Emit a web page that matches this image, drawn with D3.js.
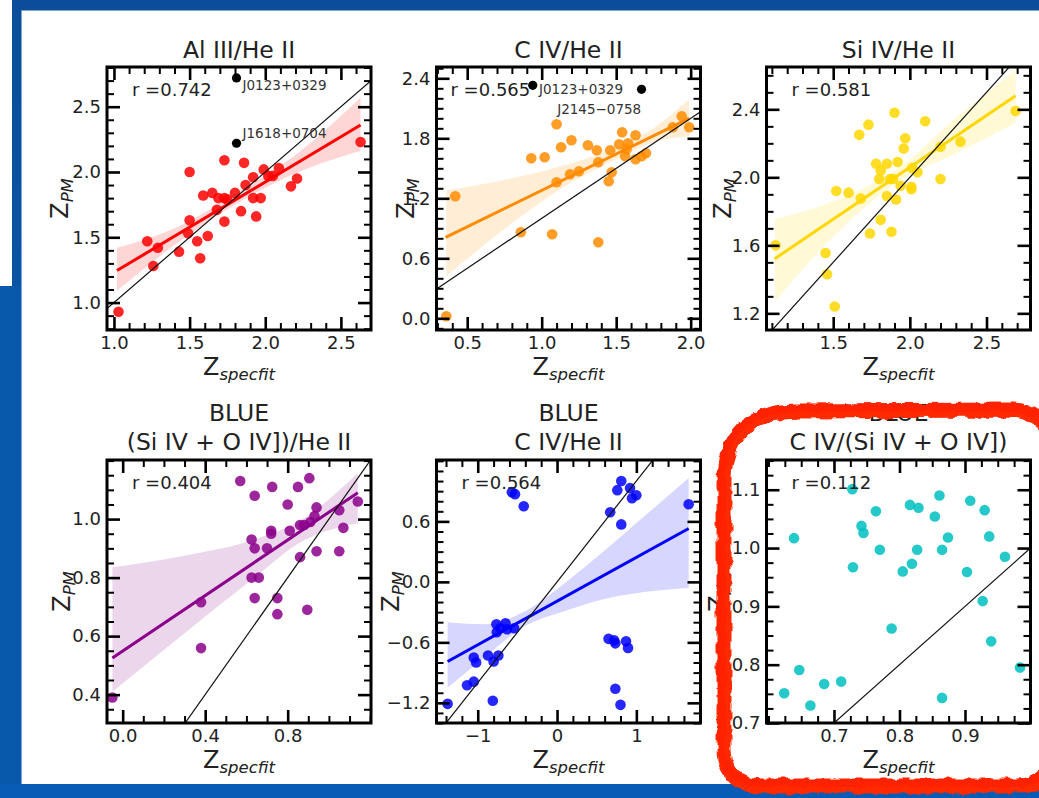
<!DOCTYPE html>
<html>
<head>
<meta charset="utf-8">
<script src="https://cdn.jsdelivr.net/npm/d3@7"></script>
<style>
  html, body { margin: 0; padding: 0; background: #fff; }
  svg { display: block; font-family: "DejaVu Sans", sans-serif; }
</style>
</head>
<body>
<svg id="fig" width="1039" height="798"></svg>
<script>
// ---------- Al III / He II ----------
const alX = [1.03,1.22,1.29,1.26,1.43,1.50,1.50,1.49,1.55,1.57,1.59,1.62,1.65,1.68,1.69,1.73,1.73,1.75,1.73,1.80,1.84,1.86,1.87,1.92,1.92,1.94,1.97,1.99,2.02,2.05,2.09,2.17,2.21,2.63];
const alY = [0.93,1.47,1.42,1.28,1.39,2.00,1.63,1.53,1.47,1.34,1.82,1.51,1.84,1.71,1.80,2.09,1.80,1.79,1.62,1.84,1.70,2.07,1.90,1.96,1.80,1.66,1.80,2.02,1.97,1.97,2.03,1.89,1.95,2.23];
const alFitX = [1.02, 2.63];
const alFitY = [1.245, 2.36];
const alBandX  = [1.02, 1.40, 1.80, 2.20, 2.63];
const alBandLo = [1.09, 1.44, 1.75, 1.99, 2.16];
const alBandHi = [1.42, 1.57, 1.83, 2.13, 2.57];
const alOutX = [1.81, 1.81];
const alOutY = [2.72, 2.22];
const alOutName = ["J0123+0329", "J1618+0704"];
const alOutTextX = [1.85, 1.85];
const alOutTextY = [2.63, 2.26];

// ---------- C IV / He II ----------
const civX = [0.36,0.42,0.86,0.93,1.02,1.07,1.10,1.10,1.13,1.19,1.20,1.25,1.31,1.37,1.38,1.38,1.45,1.46,1.47,1.52,1.54,1.56,1.57,1.58,1.63,1.63,1.67,1.70,1.88,1.94,1.99];
const civY = [0.02,1.22,0.86,1.60,1.61,0.84,1.94,1.36,1.71,1.44,1.78,1.47,1.73,1.68,0.76,1.56,1.37,1.68,1.46,1.74,1.86,1.62,1.69,1.75,1.83,1.59,1.62,1.65,1.91,2.02,1.91];
const civFitX = [0.355, 1.99];
const civFitY = [0.81, 2.00];
const civBandX  = [0.36, 0.80, 1.20, 1.50, 1.75, 1.99];
const civBandLo = [0.42, 0.95, 1.36, 1.59, 1.76, 1.82];
const civBandHi = [1.28, 1.40, 1.55, 1.71, 1.90, 2.19];
const civOutX = [0.94, 1.67];
const civOutY = [2.33, 2.29];
const civOutName = ["J0123+0329", "J2145\u22120758"];
const civOutTextX = [0.982, 1.104];
const civOutTextY = [2.243, 2.043];

// ---------- Si IV / He II ----------
const siX = [1.124,1.45,1.46,1.51,1.52,1.60,1.68,1.67,1.73,1.74,1.78,1.81,1.81,1.80,1.85,1.85,1.87,1.88,1.90,1.89,1.91,1.92,1.94,1.96,1.97,2.01,2.01,2.015,2.05,2.10,2.20,2.20,2.33,2.69];
const siY = [1.60,1.555,1.43,1.24,1.92,1.91,1.875,2.25,2.31,1.67,2.08,1.75,2.04,1.99,2.08,1.89,1.99,1.68,2.38,1.99,1.87,2.09,1.95,2.17,2.23,1.945,1.93,2.055,2.03,2.33,1.99,2.18,2.21,2.39];
const siFitX = [1.117, 2.69];
const siFitY = [1.52, 2.48];
const siBandX  = [1.12, 1.50, 1.95, 2.30, 2.69];
const siBandLo = [1.27, 1.65, 1.99, 2.14, 2.32];
const siBandHi = [1.755, 1.86, 2.07, 2.35, 2.63];

// ---------- BLUE (Si IV + O IV]) / He II ----------
const sioX = [-0.05,0.38,0.38,0.57,0.64,0.625,0.64,0.625,0.66,0.64,0.70,0.72,0.72,0.725,0.75,0.75,0.80,0.81,0.85,0.86,0.86,0.88,0.895,0.905,0.91,0.93,0.94,0.94,1.05,1.05,1.07,1.14];
const sioY = [0.39,0.716,0.559,1.13,1.08,0.93,0.90,0.80,0.80,0.73,0.90,0.95,0.96,1.11,0.73,0.675,1.05,0.96,1.11,0.87,0.98,0.98,0.69,1.14,0.99,1.01,0.89,1.04,1.03,0.89,0.97,1.06];
const sioFitX = [-0.05, 1.14];
const sioFitY = [0.525, 1.09];
const sioBandX  = [-0.05, 0.30, 0.64, 0.86, 1.14];
const sioBandLo = [0.41, 0.61, 0.80, 0.92, 0.986];
const sioBandHi = [0.835, 0.875, 0.93, 0.995, 1.157];

// ---------- BLUE C IV / He II ----------
const bcX = [-1.38,-1.135,-1.05,-1.05,-1.02,-0.87,-0.81,-0.80,-0.74,-0.765,-0.76,-0.715,-0.65,-0.63,-0.54,-0.57,-0.53,-0.42,0.67,0.76,0.81,0.81,0.92,0.945,1.00,1.66,0.65,0.72,0.735,0.87,0.895,0.735,0.80];
const bcY = [-1.21,-1.025,-0.99,-0.75,-0.80,-0.73,-1.18,-0.79,-0.73,-0.42,-0.50,-0.46,-0.41,-0.47,-0.46,0.89,0.87,0.75,0.69,0.91,1.00,0.57,0.93,0.83,0.86,0.77,-0.565,-0.58,-0.61,-0.59,-0.655,-1.06,-1.22];
const bcFitX = [-1.38, 1.66];
const bcFitY = [-0.79, 0.53];
const bcBandX  = [-1.38, -0.90, -0.45, 0.10, 0.60, 1.10, 1.66];
const bcBandLo = [-1.05, -0.74, -0.46, -0.29, -0.17, -0.10, -0.06];
const bcBandHi = [-0.40, -0.42, -0.31, -0.01, 0.31, 0.65, 1.03];

// ---------- BLUE C IV / (Si IV + O IV]) ----------
const coX = [0.624,0.639,0.647,0.664,0.685,0.711,0.728,0.729,0.742,0.745,0.764,0.770,0.788,0.805,0.816,0.819,0.829,0.827,0.854,0.861,0.865,0.865,0.874,0.903,0.908,0.927,0.930,0.937,0.940,0.961,0.984];
const coY = [0.751,1.017,0.791,0.730,0.767,0.771,1.101,0.967,1.038,1.026,1.063,0.997,0.862,0.960,1.074,0.973,1.069,0.997,1.054,1.090,0.997,0.743,1.018,0.959,1.081,0.909,1.065,1.020,0.840,0.985,0.795];

// ---------- panel text and axes ----------
const titles = [["Al III/He II"], ["C IV/He II"], ["Si IV/He II"],
                ["BLUE", "(Si IV + O IV])/He II"], ["BLUE", "C IV/He II"], ["BLUE", "C IV/(Si IV + O IV])"]];
const rValues = ["0.742", "0.565", "0.581", "0.404", "0.564", "0.112"];
const xTicks = [[1.0,1.5,2.0,2.5], [0.5,1.0,1.5,2.0], [1.5,2.0,2.5], [0.0,0.4,0.8], [-1,0,1], [0.7,0.8,0.9]];
const yTicks = [[1.0,1.5,2.0,2.5], [0.0,0.6,1.2,1.8,2.4], [1.2,1.6,2.0,2.4], [0.4,0.6,0.8,1.0], [-1.2,-0.6,0.0,0.6], [0.7,0.8,0.9,1.0,1.1]];
const xMinorStep = [0.1, 0.1, 0.1, 0.1, 0.2, 0.025];
const yMinorStep = [0.1, 0.1, 0.1, 0.05, 0.1, 0.025];
const xDomains = [[0.954, 2.699], [0.294, 2.066], [1.065, 2.787], [-0.076, 1.204], [-1.52, 1.809], [0.597, 1.0]];
const yDomains = [[0.79, 2.804], [-0.117, 2.513], [1.102, 2.649], [0.303, 1.202], [-1.40, 1.209], [0.70, 1.151]];

const series = [
  {x: alX,  y: alY,  color: "#ff0000", fitX: alFitX,  fitY: alFitY,  bx: alBandX,  lo: alBandLo,  hi: alBandHi,
   outX: alOutX, outY: alOutY, outName: alOutName, outTX: alOutTextX, outTY: alOutTextY, xFmt: ".1f"},
  {x: civX, y: civY, color: "#ff8c00", fitX: civFitX, fitY: civFitY, bx: civBandX, lo: civBandLo, hi: civBandHi,
   outX: civOutX, outY: civOutY, outName: civOutName, outTX: civOutTextX, outTY: civOutTextY, xFmt: ".1f"},
  {x: siX,  y: siY,  color: "#ffd700", fitX: siFitX,  fitY: siFitY,  bx: siBandX,  lo: siBandLo,  hi: siBandHi, xFmt: ".1f"},
  {x: sioX, y: sioY, color: "#8b008b", fitX: sioFitX, fitY: sioFitY, bx: sioBandX, lo: sioBandLo, hi: sioBandHi, xFmt: ".1f"},
  {x: bcX,  y: bcY,  color: "#0000ff", fitX: bcFitX,  fitY: bcFitY,  bx: bcBandX,  lo: bcBandLo,  hi: bcBandHi, xFmt: "d"},
  {x: coX,  y: coY,  color: "#00bfbf", xFmt: ".1f"}
];

// ---------- layout ----------
const W = 264, H = 263;
const colLeft = [107, 436.5, 766.5];
const rowTop = [67, 460];
const yLabelOffset = [39, 23, 36, 37, 38, 41];
const rTextOffset = [25, 14, 25, 25, 25, 25];
const ink = "#222";

const svg = d3.select("#fig");
const defs = svg.append("defs");

// page frame
const grad = defs.append("linearGradient").attr("id", "edgeBlue").attr("x1", 0).attr("y1", 0).attr("x2", 0).attr("y2", 1);
grad.append("stop").attr("offset", "0%").attr("stop-color", "#0b4d98");
grad.append("stop").attr("offset", "100%").attr("stop-color", "#075db5");
svg.append("rect").attr("width", 1039).attr("height", 798).attr("fill", "#fff");
svg.append("rect").attr("x", 12).attr("y", 0).attr("width", 1027).attr("height", 10.5).attr("fill", "#0b4d98");
svg.append("rect").attr("x", 12).attr("y", 0).attr("width", 9.5).attr("height", 798).attr("fill", "url(#edgeBlue)");
svg.append("rect").attr("x", 0).attr("y", 286).attr("width", 21.5).attr("height", 512).attr("fill", "#0858ac");
svg.append("rect").attr("x", 0).attr("y", 784).attr("width", 1039).attr("height", 14).attr("fill", "#075db5");
svg.append("line").attr("x1", 21.5).attr("x2", 21.5).attr("y1", 10.5).attr("y2", 784)
   .attr("stroke", "#7aa6dc").attr("stroke-width", 1);

function minorValues(dom, step, major) {
  const start = Math.ceil(dom[0] / step - 1e-9);
  const end = Math.floor(dom[1] / step + 1e-9);
  return d3.range(start, end + 1).map(k => +(k * step).toFixed(6))
    .filter(v => !major.some(m => Math.abs(m - v) < step * 0.01));
}

series.forEach((s, i) => {
  const col = i % 3, row = Math.floor(i / 3);
  const g = svg.append("g").attr("transform", `translate(${colLeft[col]},${rowTop[row]})`);
  const x = d3.scaleLinear().domain(xDomains[i]).range([0, W]);
  const y = d3.scaleLinear().domain(yDomains[i]).range([H, 0]);

  defs.append("clipPath").attr("id", "clip" + i)
    .append("rect").attr("width", W).attr("height", H);
  const plot = g.append("g").attr("clip-path", `url(#clip${i})`);

  // confidence band of the regression
  if (s.bx) {
    const bandData = s.bx.map((v, k) => ({x: v, lo: s.lo[k], hi: s.hi[k]}));
    plot.append("path").datum(bandData)
      .attr("fill", s.color).attr("fill-opacity", 0.16)
      .attr("d", d3.area().curve(d3.curveMonotoneX)
        .x(d => x(d.x)).y0(d => y(d.lo)).y1(d => y(d.hi)));
  }

  // sources
  plot.selectAll("circle.pt").data(s.x.map((v, k) => [v, s.y[k]])).join("circle")
    .attr("class", "pt")
    .attr("cx", d => x(d[0])).attr("cy", d => y(d[1])).attr("r", 5.3)
    .attr("fill", s.color).attr("fill-opacity", 0.85);

  // regression line
  if (s.fitX) {
    plot.append("path").datum(s.fitX.map((v, k) => [v, s.fitY[k]]))
      .attr("fill", "none").attr("stroke", s.color).attr("stroke-width", 3)
      .attr("d", d3.line().x(d => x(d[0])).y(d => y(d[1])));
  }

  // one-to-one line
  const dom = xDomains[i];
  plot.append("path").datum([dom[0], dom[1]])
    .attr("fill", "none").attr("stroke", "#111").attr("stroke-width", 1.2)
    .attr("d", d3.line().x(d => x(d)).y(d => y(d)));

  // labelled outliers
  if (s.outX) {
    plot.selectAll("circle.out").data(s.outX.map((v, k) => [v, s.outY[k]])).join("circle")
      .attr("class", "out")
      .attr("cx", d => x(d[0])).attr("cy", d => y(d[1])).attr("r", 4.6).attr("fill", "#000");
    g.selectAll("text.name").data(s.outName).join("text")
      .attr("class", "name")
      .attr("x", (d, k) => x(s.outTX[k])).attr("y", (d, k) => y(s.outTY[k]))
      .attr("font-size", 13.5).attr("fill", "#333").text(d => d);
  }

  // frame
  g.append("rect").attr("width", W).attr("height", H)
    .attr("fill", "none").attr("stroke", "#000").attr("stroke-width", 3);

  // ticks on all four sides, pointing inwards
  const xMinor = minorValues(xDomains[i], xMinorStep[i], xTicks[i]);
  const yMinor = minorValues(yDomains[i], yMinorStep[i], yTicks[i]);
  const xf = d3.format(s.xFmt), yf = d3.format(".1f");
  const axes = [
    [d3.axisBottom(x).tickValues(xTicks[i]).tickFormat(xf), `translate(0,${H})`, true],
    [d3.axisTop(x).tickValues(xTicks[i]).tickFormat(""), "", false],
    [d3.axisLeft(y).tickValues(yTicks[i]).tickFormat(yf), "", true],
    [d3.axisRight(y).tickValues(yTicks[i]).tickFormat(""), `translate(${W},0)`, false]
  ];
  axes.forEach(([ax, tr, lab]) => {
    const a = g.append("g").attr("transform", tr)
      .call(ax.tickSize(-13).tickPadding(lab ? 6 : 0));
    a.select(".domain").remove();
    a.selectAll(".tick line").attr("stroke", "#000").attr("stroke-width", 2.6);
    a.selectAll("text").attr("font-size", 18).attr("fill", ink).attr("font-family", "DejaVu Sans");
  });
  const minors = [
    [d3.axisBottom(x).tickValues(xMinor), `translate(0,${H})`],
    [d3.axisTop(x).tickValues(xMinor), ""],
    [d3.axisLeft(y).tickValues(yMinor), ""],
    [d3.axisRight(y).tickValues(yMinor), `translate(${W},0)`]
  ];
  minors.forEach(([ax, tr]) => {
    const a = g.append("g").attr("transform", tr).call(ax.tickSize(-7).tickFormat(""));
    a.select(".domain").remove();
    a.selectAll(".tick line").attr("stroke", "#000").attr("stroke-width", 2);
  });

  // correlation coefficient
  g.append("text").attr("x", rTextOffset[i]).attr("y", 29)
    .attr("font-size", 18).attr("fill", ink).text("r =" + rValues[i]);

  // title
  const tl = titles[i];
  tl.forEach((t, k) => {
    const base = row === 0 ? -9 : -(tl.length - 1 - k) * 29 - 10;
    g.append("text").attr("x", W / 2).attr("y", base).attr("text-anchor", "middle")
      .attr("font-size", 23.5).attr("fill", ink).text(t);
  });

  // axis labels
  const xl = g.append("text").attr("x", W / 2).attr("y", H + 45).attr("text-anchor", "middle").attr("fill", ink);
  xl.append("tspan").attr("font-size", 24).text("Z");
  xl.append("tspan").attr("font-size", 16.5).attr("font-style", "italic").attr("dy", 5).text("specfit");

  const yl = g.append("text").attr("transform", `translate(${-yLabelOffset[i]},${H / 2}) rotate(-90)`)
    .attr("text-anchor", "middle").attr("fill", ink);
  yl.append("tspan").attr("font-size", 24).text("Z");
  yl.append("tspan").attr("font-size", 16.5).attr("font-style", "italic").attr("dy", 5).text("PM");
});

// hand-drawn highlight round the last panel
const rough = defs.append("filter").attr("id", "rough").attr("x", "-10%").attr("y", "-10%").attr("width", "120%").attr("height", "120%");
rough.append("feTurbulence").attr("type", "fractalNoise").attr("baseFrequency", 0.09).attr("numOctaves", 2).attr("seed", 4).attr("result", "noise");
rough.append("feDisplacementMap").attr("in", "SourceGraphic").attr("in2", "noise").attr("scale", 7)
  .attr("xChannelSelector", "R").attr("yChannelSelector", "G");
const ring = "M795,411 L1012,410 Q1050,412 1054,450 L1054,752 Q1052,786 1016,786 L762,786 Q725,785 724,750 L724,478 Q726,414 795,411 Z";
const hl = svg.append("g").attr("filter", "url(#rough)");
hl.append("path").attr("d", ring).attr("fill", "none").attr("stroke", "#ff2a00").attr("stroke-width", 15);
hl.append("path").attr("d", ring).attr("transform", "translate(-2,-3)")
  .attr("fill", "none").attr("stroke", "#ff2200").attr("stroke-width", 8).attr("stroke-opacity", 0.9);
</script>
</body>
</html>
